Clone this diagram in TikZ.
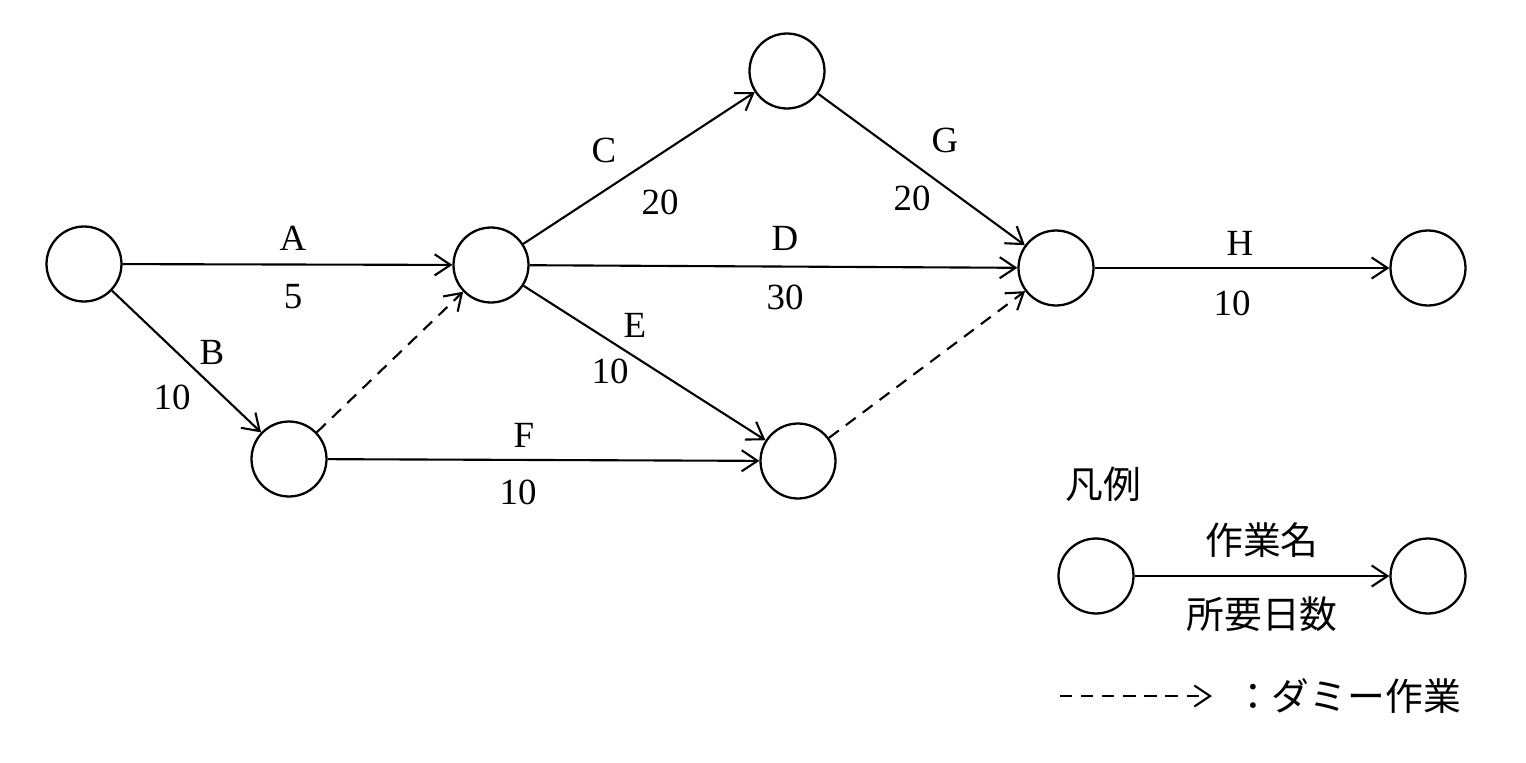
\documentclass[tikz,border=0pt]{standalone}
\usepackage{fontspec}
\setmainfont{Liberation Serif}
\newfontfamily\cjk{Noto Sans CJK JP}
\usetikzlibrary{arrows.meta}
\begin{document}
\begin{tikzpicture}[x=0.02cm,y=-0.02cm,
  ev/.style={circle,draw,line width=1.3pt,minimum size=1.5cm,inner sep=0},
  act/.style={draw,line width=1.2pt,-{Straight Barb[length=9pt,width=12pt,line width=1.2pt]}},
  dum/.style={act,dashed,dash pattern=on 7pt off 5pt},
  lb/.style={font=\fontsize{21}{24}\selectfont},
  jp/.style={font=\cjk\fontsize{21.5}{24}\selectfont}]
\useasboundingbox (0,0) rectangle (1526,762);
\node[ev] (n1) at (84,264) {};
\node[ev] (n2) at (491,265) {};
\node[ev] (n3) at (787,71) {};
\node[ev] (n4) at (1056,268) {};
\node[ev] (n5) at (1428,268) {};
\node[ev] (n6) at (289,459) {};
\node[ev] (n7) at (798,461) {};
\node[ev] (l1) at (1096,576) {};
\node[ev] (l2) at (1428,576) {};
\draw[act] (n1) -- (n2);
\draw[act] (n1) -- (n6);
\draw[dum] (n6) -- (n2);
\draw[act] (n2) -- (n3);
\draw[act] (n2) -- (n4);
\draw[act] (n2) -- (n7);
\draw[act] (n3) -- (n4);
\draw[dum] (n7) -- (n4);
\draw[act] (n4) -- (n5);
\draw[act] (n6) -- (n7);
\draw[act] (l1) -- (l2);
\coordinate (d1) at (1060,696);
\coordinate (d2) at (1212,696);
\draw[dum] (d1) -- (d2);
\node[lb] (tA) at (293,238) {A};
\node[lb] (vA) at (293,297) {5};
\node[lb] (tB) at (212,352) {B};
\node[lb] (vB) at (172,397) {10};
\node[lb] (tC) at (604,150) {C};
\node[lb] (vC) at (660,202) {20};
\node[lb] (tD) at (785,238) {D};
\node[lb] (vD) at (785,297) {30};
\node[lb] (tE) at (635,325) {E};
\node[lb] (vE) at (610,371) {10};
\node[lb] (tG) at (945,140) {G};
\node[lb] (vG) at (912,198) {20};
\node[lb] (tH) at (1240,243) {H};
\node[lb] (vH) at (1232,303) {10};
\node[lb] (tF) at (524,435) {F};
\node[lb] (vF) at (518,492) {10};
\node[jp] (leg) at (1103,484) {凡例};
\node[jp] (ln) at (1262,540) {作業名};
\node[jp] (ld) at (1262,614) {所要日数};
\node[jp,anchor=west] (dm) at (1228,696) {：ダミー作業};
\end{tikzpicture}
\end{document}
